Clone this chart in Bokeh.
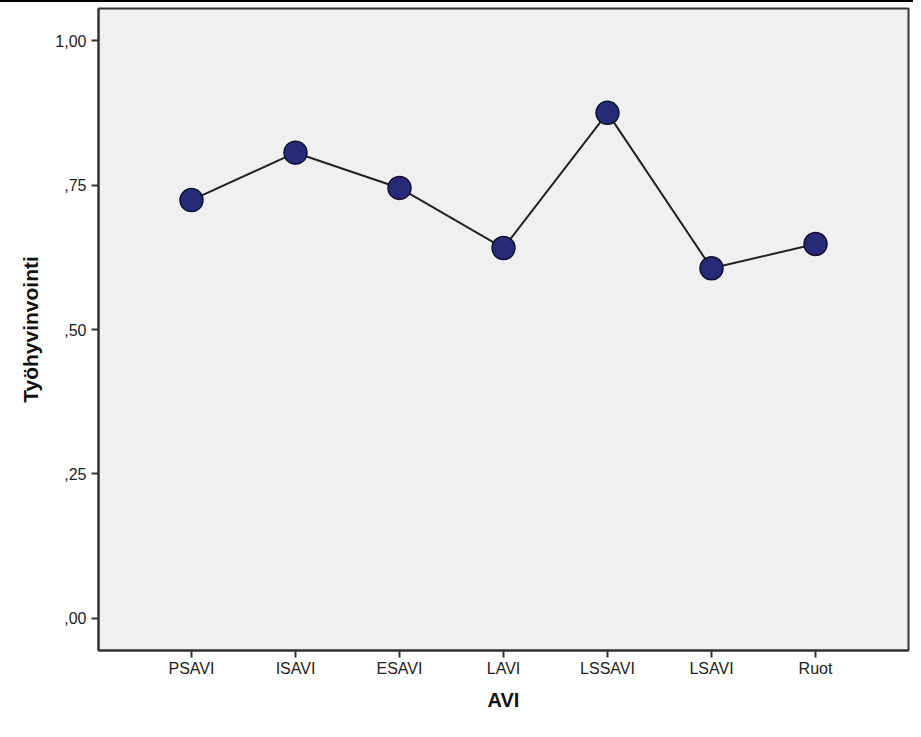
from bokeh.plotting import figure
from bokeh.models import FixedTicker, Range1d, ColumnDataSource
from bokeh.embed import file_html
from bokeh.resources import INLINE

categories = ["PSAVI", "ISAVI", "ESAVI", "LAVI", "LSSAVI", "LSAVI", "Ruot"]
values = [0.724, 0.806, 0.745, 0.641, 0.875, 0.606, 0.648]
y_ticks = [0.0, 0.25, 0.5, 0.75, 1.0]
y_tick_labels = [",00", ",25", ",50", ",75", "1,00"]

xs = list(range(len(categories)))
src = ColumnDataSource(dict(x=xs, y=values, cat=categories))

p = figure(width=913, height=729, output_backend="svg", toolbar_location=None,
           x_range=Range1d(-0.894, len(categories) - 1 + 0.894),
           y_range=Range1d(-0.0556, 1.0556),
           min_border_left=98, min_border_right=5, min_border_top=6, min_border_bottom=81)
p.styles = {"border-top": "2px solid black"}

p.background_fill_color = "#F0F0F0"
p.border_fill_color = "white"
p.outline_line_color = "#333333"
p.outline_line_width = 2
p.xgrid.visible = False
p.ygrid.visible = False

p.line("x", "y", source=src, line_color="#222222", line_width=2)
p.scatter("x", "y", source=src, size=23, fill_color="#252A79", line_color="#101030", line_width=1.5)

font = "Liberation Sans"
p.xaxis.ticker = FixedTicker(ticks=xs)
p.xaxis.major_label_overrides = {i: c for i, c in enumerate(categories)}
p.yaxis.ticker = FixedTicker(ticks=y_ticks)
p.yaxis.major_label_overrides = {t: l for t, l in zip(y_ticks, y_tick_labels)}

for ax in (p.xaxis, p.yaxis):
    ax.minor_tick_line_color = None
    ax.major_tick_in = 0
    ax.major_tick_out = 7
    ax.major_tick_line_color = "#333333"
    ax.major_tick_line_width = 2
    ax.axis_line_color = "#333333"
    ax.axis_line_width = 2
    ax.major_label_text_font = font
    ax.major_label_text_font_size = "16px"
    ax.major_label_text_color = "#222222"
    ax.axis_label_text_font = font
    ax.axis_label_text_font_style = "bold"
    ax.axis_label_text_color = "#111111"

p.xaxis.axis_label_text_font_size = "20px"
p.yaxis.axis_label_text_font_size = "21px"
p.xaxis.axis_label = "AVI"
p.yaxis.axis_label = "Työhyvinvointi"
p.xaxis.major_label_standoff = 2
p.yaxis.major_label_standoff = 5
p.xaxis.axis_label_standoff = 9
p.yaxis.axis_label_standoff = 10

open("out.html", "w").write(file_html(p, INLINE))
